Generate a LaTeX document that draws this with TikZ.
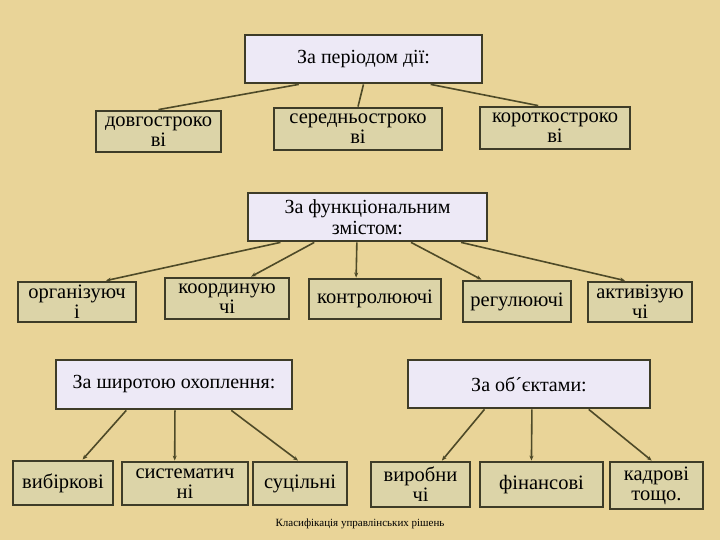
\documentclass[tikz,border=0pt]{standalone}
\usepackage{fontspec}
\setmainfont{Liberation Serif}
\newfontfamily\boxfont{Liberation Serif}
\usetikzlibrary{calc,arrows.meta}
\definecolor{bg}{RGB}{233,212,152}
\definecolor{lav}{RGB}{237,233,246}
\definecolor{tanbox}{RGB}{220,212,168}
\definecolor{edgec}{RGB}{62,60,40}
\definecolor{wire}{RGB}{78,74,40}
\begin{document}
\begin{tikzpicture}[x=1pt,y=-1pt,
 box/.style={draw=edgec,line width=2.8pt,fill=tanbox,align=center,
   font=\boxfont\fontsize{20.5}{20}\selectfont,inner sep=0pt},
 head/.style={box,fill=lav,font=\boxfont\fontsize{20}{21}\selectfont},
 link/.style={draw=wire,line width=1.6pt},
 arr/.style={link,-{Stealth[length=5pt,width=4pt]}}]
\fill[bg] (0,0) rectangle (720,540);
\useasboundingbox (0,0) rectangle (720,540);
% group 1
\node[head,minimum width=237pt,minimum height=48pt] (per) at (363.5,59) {За періодом дії:};
\node[box,minimum width=125pt,minimum height=41pt] (dov) at (158.5,131.5) {довгостроко\\ві};
\node[box,minimum width=168pt,minimum height=42pt] (ser) at (358,129) {середньостроко\\ві};
\node[box,minimum width=150pt,minimum height=42pt] (kor) at (555,128) {короткостроко\\ві};
\draw[link] ($(per.south west)!0.23!(per.south east)$) -- (dov.north);
\draw[link] (per.south) -- (ser.north);
\draw[link] ($(per.south west)!0.78!(per.south east)$) -- ($(kor.north west)!0.39!(kor.north east)$);
% group 2
\node[head,minimum width=239pt,minimum height=48pt] (fun) at (367.5,217) {За функціональним\\змістом:};
\node[box,minimum width=118pt,minimum height=40pt] (org) at (77,302) {організуюч\\і};
\node[box,minimum width=124pt,minimum height=41pt] (koo) at (227,298.5) {координую\\чі};
\node[box,minimum width=132pt,minimum height=40pt] (kon) at (375,299) {контролюючі};
\node[box,minimum width=108pt,minimum height=41pt] (reg) at (517,301.5) {регулюючі};
\node[box,minimum width=104pt,minimum height=40pt] (akt) at (640,302) {активізую\\чі};
\draw[arr] ($(fun.south west)!0.14!(fun.south east)$) -- ($(org.north west)!0.74!(org.north east)$);
\draw[arr] ($(fun.south west)!0.28!(fun.south east)$) -- ($(koo.north west)!0.69!(koo.north east)$);
\draw[arr] ($(fun.south west)!0.456!(fun.south east)$) -- ($(kon.north west)!0.36!(kon.north east)$);
\draw[arr] ($(fun.south west)!0.68!(fun.south east)$) -- ($(reg.north west)!0.18!(reg.north east)$);
\draw[arr] ($(fun.south west)!0.887!(fun.south east)$) -- ($(akt.north west)!0.36!(akt.north east)$);
% group 3
\node[head,minimum width=236pt,minimum height=49pt] (shi) at (174,384.5) {За широтою охоплення:};
\node[box,minimum width=100pt,minimum height=44pt] (vyb) at (63,483) {вибіркові};
\node[box,minimum width=126pt,minimum height=43pt] (sys) at (185,483.5) {систематич\\ні};
\node[box,minimum width=94pt,minimum height=43pt] (suc) at (300,483.5) {суцільні};
\draw[arr] ($(shi.south west)!0.30!(shi.south east)$) -- ($(vyb.north west)!0.69!(vyb.north east)$);
\draw[arr] ($(shi.south west)!0.504!(shi.south east)$) -- ($(sys.north west)!0.42!(sys.north east)$);
\draw[arr] ($(shi.south west)!0.74!(shi.south east)$) -- ($(suc.north west)!0.48!(suc.north east)$);
% group 4
\node[head,minimum width=242pt,minimum height=48pt] (obj) at (529,384) {За об´єктами:};
\node[box,minimum width=99pt,minimum height=45pt] (vyr) at (420.5,484.5) {виробни\\чі};
\node[box,minimum width=123pt,minimum height=45pt] (fin) at (541.5,484.5) {фінансові};
\node[box,minimum width=93pt,minimum height=47pt] (kad) at (656.5,485.5) {кадрові\\тощо.};
\draw[arr] ($(obj.south west)!0.318!(obj.south east)$) -- ($(vyr.north west)!0.71!(vyr.north east)$);
\draw[arr] ($(obj.south west)!0.512!(obj.south east)$) -- ($(fin.north west)!0.42!(fin.north east)$);
\draw[arr] ($(obj.south west)!0.744!(obj.south east)$) -- ($(kad.north west)!0.45!(kad.north east)$);
% caption
\node[font=\boxfont\fontsize{11}{13}\selectfont] (cap) at (360,524) {Класифікація управлінських рішень};
\end{tikzpicture}
\end{document}
